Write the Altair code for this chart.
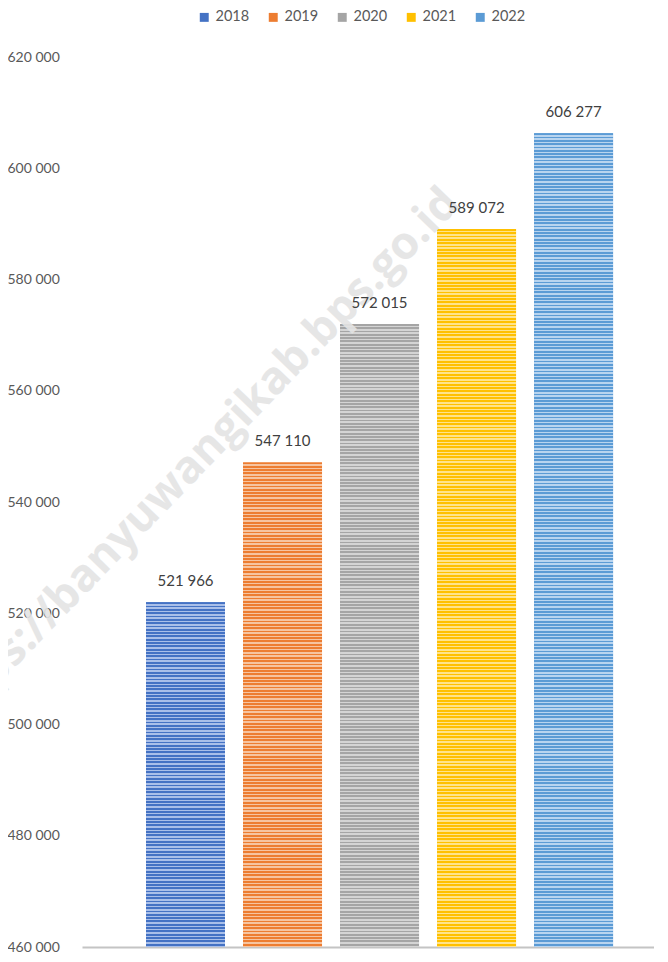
import altair as alt
import pandas as pd

years = ["2018", "2019", "2020", "2021", "2022"]
values = [521966, 547110, 572015, 589072, 606277]
colors = ["#4472C4", "#ED7D31", "#A5A5A5", "#FFC000", "#5B9BD5"]
light_colors = ["#a9bfe9", "#f6c4a0", "#d4d4d4", "#ffe38a", "#b8d4ef"]
y_ticks = [460000, 480000, 500000, 520000, 540000, 560000, 580000, 600000, 620000]
watermark = "https://banyuwangikab.bps.go.id"

Y_MIN, Y_MAX = 460000, 620000
W, H = 572, 890
FONT = "Lato"

df = pd.DataFrame({"year": years, "value": values})

x_enc = alt.X(
    "year:N",
    sort=years,
    scale=alt.Scale(paddingInner=0.186, paddingOuter=0.541, align=0.61),
    axis=alt.Axis(labels=False, ticks=False, title=None, domainColor="#c4c4c4", domainWidth=2),
)
y_enc = alt.Y(
    "value:Q",
    scale=alt.Scale(domain=[Y_MIN, Y_MAX], nice=False, zero=False),
    axis=alt.Axis(
        values=y_ticks, grid=False, ticks=False, domain=False, title=None,
        labelAlign="left", labelPadding=75, format=",.0f", labelFontSize=14,
        labelColor="#595959", labelFont=FONT,
    ),
)

base = alt.Chart(df)

solid = base.mark_bar().encode(
    x=x_enc,
    y=y_enc,
    y2=alt.datum(Y_MIN),
    color=alt.Color(
        "year:N",
        scale=alt.Scale(domain=years, range=colors),
        legend=alt.Legend(
            title=None, orient="none", direction="horizontal", legendX=115, legendY=-47,
            symbolType="square", symbolSize=80, symbolStrokeWidth=0,
            labelFontSize=14.5, labelColor="#595959", labelFont=FONT,
            columnPadding=16, labelOffset=4,
        ),
    ),
)


def stripes(dark, light, height_px, period=3.3, frac=0.55):
    n = max(1, round(height_px / period))
    stops = []
    for i in range(n):
        a = i / n
        b = (i + frac) / n
        c = (i + 1) / n
        stops += [
            alt.GradientStop(offset=a, color=dark),
            alt.GradientStop(offset=b, color=dark),
            alt.GradientStop(offset=b, color=light),
            alt.GradientStop(offset=c, color=light),
        ]
    return alt.Gradient(gradient="linear", stops=stops, x1=0, x2=0, y1=0, y2=1)


striped_layers = []
for yr, v, dk, lt in zip(years, values, colors, light_colors):
    h = (v - Y_MIN) / (Y_MAX - Y_MIN) * H
    striped_layers.append(
        base.transform_filter(alt.datum.year == yr)
        .mark_bar(fill=stripes(dk, lt, h))
        .encode(x=x_enc, y=y_enc, y2=alt.datum(Y_MIN))
    )

labels = base.mark_text(
    baseline="alphabetic", dy=-16, fontSize=15, color="#404040", font=FONT
).encode(x=x_enc, y=y_enc, text=alt.Text("value:Q", format=",.0f"))

wm = alt.Chart(pd.DataFrame({"t": [watermark]})).mark_text(
    angle=314, fontSize=45, fontWeight="bold", font="Open Sans",
    color="#e4e4e4", opacity=0.9, align="center", baseline="middle",
).encode(x=alt.value(112), y=alt.value(405), text="t:N")

chart = (
    alt.layer(solid, *striped_layers, wm, labels)
    .properties(
        width=W, height=H,
        autosize=alt.AutoSizeParams(type="none"),
        padding={"left": 74, "top": 49, "right": 0, "bottom": 6},
    )
    .configure(locale={"number": {"decimal": ",", "thousands": " ", "grouping": [3], "currency": ["", ""]}})
    .configure_view(stroke=None)
)

chart.save("out.html", embed_options={"renderer": "svg", "actions": False})
